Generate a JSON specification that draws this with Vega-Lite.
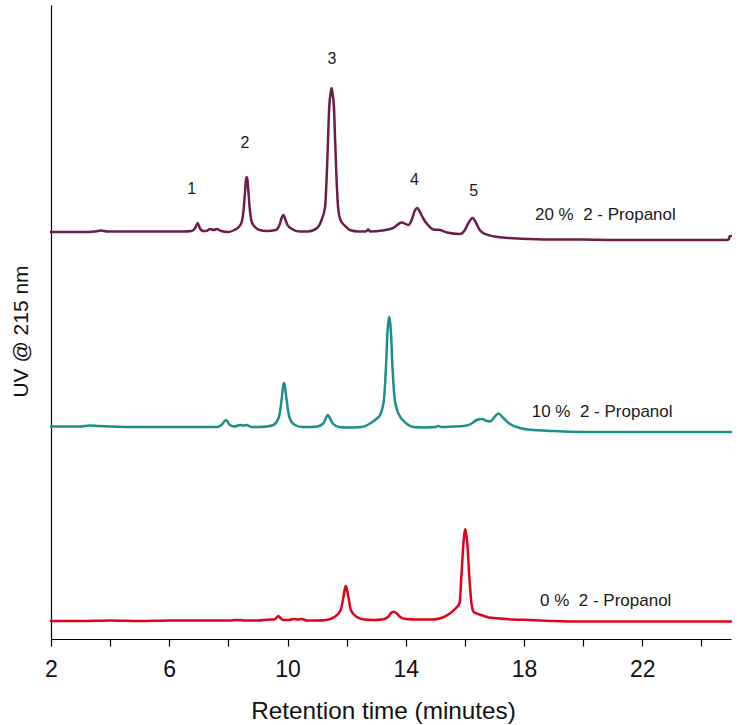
{
  "$schema": "https://vega.github.io/schema/vega-lite/v6.json",
  "width": 680,
  "height": 634,
  "autosize": {"type": "none"},
  "padding": {"left": 51, "top": 5, "right": 11, "bottom": 86},
  "background": "white",
  "config": {"view": {"stroke": null}, "font": "Liberation Sans"},
  "datasets": {
    "traces": [
      {"t":2.0,"v":406,"s":"20 %"},{"t":3.0,"v":406,"s":"20 %"},{"t":3.5,"v":406.5,"s":"20 %"},{"t":3.7,"v":407.5,"s":"20 %"},{"t":3.9,"v":406.5,"s":"20 %"},{"t":4.5,"v":406.5,"s":"20 %"},{"t":5.5,"v":406.5,"s":"20 %"},{"t":6.5,"v":406.5,"s":"20 %"},{"t":6.75,"v":407,"s":"20 %"},{"t":6.88,"v":410,"s":"20 %"},{"t":6.96,"v":415,"s":"20 %"},{"t":7.03,"v":410,"s":"20 %"},{"t":7.15,"v":407,"s":"20 %"},{"t":7.25,"v":407,"s":"20 %"},{"t":7.38,"v":409,"s":"20 %"},{"t":7.5,"v":408,"s":"20 %"},{"t":7.61,"v":409,"s":"20 %"},{"t":7.75,"v":407,"s":"20 %"},{"t":8.0,"v":406,"s":"20 %"},{"t":8.2,"v":408,"s":"20 %"},{"t":8.35,"v":411,"s":"20 %"},{"t":8.45,"v":416,"s":"20 %"},{"t":8.52,"v":430,"s":"20 %"},{"t":8.56,"v":445,"s":"20 %"},{"t":8.6,"v":459,"s":"20 %"},{"t":8.62,"v":461,"s":"20 %"},{"t":8.64,"v":459,"s":"20 %"},{"t":8.68,"v":445,"s":"20 %"},{"t":8.72,"v":430,"s":"20 %"},{"t":8.79,"v":416,"s":"20 %"},{"t":8.9,"v":411,"s":"20 %"},{"t":9.05,"v":408,"s":"20 %"},{"t":9.3,"v":407,"s":"20 %"},{"t":9.6,"v":408,"s":"20 %"},{"t":9.74,"v":414,"s":"20 %"},{"t":9.8,"v":420,"s":"20 %"},{"t":9.86,"v":423,"s":"20 %"},{"t":9.92,"v":419,"s":"20 %"},{"t":10.0,"v":413,"s":"20 %"},{"t":10.15,"v":409,"s":"20 %"},{"t":10.4,"v":406.5,"s":"20 %"},{"t":10.7,"v":406.5,"s":"20 %"},{"t":11.0,"v":410,"s":"20 %"},{"t":11.15,"v":418,"s":"20 %"},{"t":11.27,"v":431,"s":"20 %"},{"t":11.33,"v":465,"s":"20 %"},{"t":11.37,"v":498,"s":"20 %"},{"t":11.41,"v":531,"s":"20 %"},{"t":11.47,"v":547,"s":"20 %"},{"t":11.49,"v":550,"s":"20 %"},{"t":11.51,"v":547,"s":"20 %"},{"t":11.57,"v":531,"s":"20 %"},{"t":11.61,"v":498,"s":"20 %"},{"t":11.65,"v":465,"s":"20 %"},{"t":11.71,"v":431,"s":"20 %"},{"t":11.79,"v":418,"s":"20 %"},{"t":11.95,"v":412,"s":"20 %"},{"t":12.11,"v":408,"s":"20 %"},{"t":12.4,"v":406.5,"s":"20 %"},{"t":12.65,"v":406.5,"s":"20 %"},{"t":12.73,"v":408.5,"s":"20 %"},{"t":12.8,"v":406.5,"s":"20 %"},{"t":13.2,"v":407.5,"s":"20 %"},{"t":13.57,"v":410,"s":"20 %"},{"t":13.86,"v":415.5,"s":"20 %"},{"t":14.09,"v":413,"s":"20 %"},{"t":14.2,"v":418,"s":"20 %"},{"t":14.3,"v":427,"s":"20 %"},{"t":14.39,"v":430,"s":"20 %"},{"t":14.48,"v":426,"s":"20 %"},{"t":14.6,"v":419,"s":"20 %"},{"t":14.75,"v":413,"s":"20 %"},{"t":14.93,"v":408.5,"s":"20 %"},{"t":15.16,"v":408,"s":"20 %"},{"t":15.4,"v":405.5,"s":"20 %"},{"t":15.83,"v":404,"s":"20 %"},{"t":16.0,"v":408,"s":"20 %"},{"t":16.12,"v":415,"s":"20 %"},{"t":16.26,"v":420,"s":"20 %"},{"t":16.38,"v":415,"s":"20 %"},{"t":16.5,"v":408,"s":"20 %"},{"t":16.65,"v":404.5,"s":"20 %"},{"t":17.0,"v":401.5,"s":"20 %"},{"t":17.5,"v":400,"s":"20 %"},{"t":18.2,"v":399,"s":"20 %"},{"t":19.0,"v":398.5,"s":"20 %"},{"t":20.0,"v":398.5,"s":"20 %"},{"t":21.0,"v":398,"s":"20 %"},{"t":22.0,"v":398,"s":"20 %"},{"t":23.0,"v":398,"s":"20 %"},{"t":24.0,"v":398,"s":"20 %"},{"t":24.85,"v":398,"s":"20 %"},{"t":24.93,"v":399,"s":"20 %"},{"t":24.96,"v":402,"s":"20 %"},{"t":25.0,"v":402,"s":"20 %"},

      {"t":2.0,"v":211.5,"s":"10 %"},{"t":3.0,"v":211.5,"s":"10 %"},{"t":3.3,"v":212.5,"s":"10 %"},{"t":3.6,"v":212,"s":"10 %"},{"t":4.0,"v":211.5,"s":"10 %"},{"t":5.0,"v":211,"s":"10 %"},{"t":6.0,"v":211,"s":"10 %"},{"t":7.0,"v":211,"s":"10 %"},{"t":7.6,"v":211,"s":"10 %"},{"t":7.77,"v":213,"s":"10 %"},{"t":7.92,"v":218,"s":"10 %"},{"t":8.05,"v":213,"s":"10 %"},{"t":8.2,"v":211.5,"s":"10 %"},{"t":8.39,"v":213,"s":"10 %"},{"t":8.5,"v":212.5,"s":"10 %"},{"t":8.62,"v":213,"s":"10 %"},{"t":8.78,"v":211,"s":"10 %"},{"t":9.0,"v":211,"s":"10 %"},{"t":9.3,"v":211.5,"s":"10 %"},{"t":9.52,"v":213,"s":"10 %"},{"t":9.71,"v":221,"s":"10 %"},{"t":9.8,"v":238,"s":"10 %"},{"t":9.86,"v":253.5,"s":"10 %"},{"t":9.88,"v":255,"s":"10 %"},{"t":9.9,"v":253.5,"s":"10 %"},{"t":9.97,"v":238,"s":"10 %"},{"t":10.06,"v":221,"s":"10 %"},{"t":10.25,"v":213,"s":"10 %"},{"t":10.5,"v":211,"s":"10 %"},{"t":10.8,"v":211,"s":"10 %"},{"t":11.0,"v":211.5,"s":"10 %"},{"t":11.21,"v":214.5,"s":"10 %"},{"t":11.3,"v":220,"s":"10 %"},{"t":11.36,"v":223,"s":"10 %"},{"t":11.43,"v":220,"s":"10 %"},{"t":11.53,"v":214.5,"s":"10 %"},{"t":11.75,"v":211,"s":"10 %"},{"t":12.0,"v":210.5,"s":"10 %"},{"t":12.5,"v":211,"s":"10 %"},{"t":12.79,"v":214.5,"s":"10 %"},{"t":13.0,"v":219,"s":"10 %"},{"t":13.13,"v":223,"s":"10 %"},{"t":13.26,"v":238,"s":"10 %"},{"t":13.33,"v":271,"s":"10 %"},{"t":13.38,"v":305,"s":"10 %"},{"t":13.42,"v":318,"s":"10 %"},{"t":13.44,"v":321,"s":"10 %"},{"t":13.46,"v":318,"s":"10 %"},{"t":13.5,"v":305,"s":"10 %"},{"t":13.55,"v":271,"s":"10 %"},{"t":13.63,"v":238,"s":"10 %"},{"t":13.75,"v":224.5,"s":"10 %"},{"t":14.02,"v":214.5,"s":"10 %"},{"t":14.25,"v":211,"s":"10 %"},{"t":14.6,"v":210.5,"s":"10 %"},{"t":15.0,"v":211,"s":"10 %"},{"t":15.1,"v":212,"s":"10 %"},{"t":15.2,"v":211,"s":"10 %"},{"t":15.6,"v":211.5,"s":"10 %"},{"t":15.95,"v":212,"s":"10 %"},{"t":16.2,"v":214,"s":"10 %"},{"t":16.4,"v":218,"s":"10 %"},{"t":16.57,"v":219,"s":"10 %"},{"t":16.75,"v":217,"s":"10 %"},{"t":16.85,"v":216.5,"s":"10 %"},{"t":17.0,"v":221,"s":"10 %"},{"t":17.13,"v":224.5,"s":"10 %"},{"t":17.3,"v":220,"s":"10 %"},{"t":17.5,"v":214.5,"s":"10 %"},{"t":17.86,"v":210,"s":"10 %"},{"t":18.3,"v":208,"s":"10 %"},{"t":18.77,"v":207.3,"s":"10 %"},{"t":19.9,"v":206,"s":"10 %"},{"t":21.0,"v":206,"s":"10 %"},{"t":22.0,"v":206,"s":"10 %"},{"t":23.0,"v":206,"s":"10 %"},{"t":24.0,"v":206,"s":"10 %"},{"t":25.0,"v":206,"s":"10 %"},

      {"t":2.0,"v":17,"s":"0 %"},{"t":3.0,"v":17,"s":"0 %"},{"t":4.0,"v":17.5,"s":"0 %"},{"t":5.0,"v":17,"s":"0 %"},{"t":6.0,"v":17.5,"s":"0 %"},{"t":7.0,"v":17.5,"s":"0 %"},{"t":8.0,"v":17.5,"s":"0 %"},{"t":8.3,"v":18,"s":"0 %"},{"t":8.6,"v":17.5,"s":"0 %"},{"t":9.0,"v":17.5,"s":"0 %"},{"t":9.4,"v":18.5,"s":"0 %"},{"t":9.54,"v":18.5,"s":"0 %"},{"t":9.62,"v":20,"s":"0 %"},{"t":9.69,"v":22,"s":"0 %"},{"t":9.76,"v":20,"s":"0 %"},{"t":9.85,"v":18,"s":"0 %"},{"t":10.05,"v":18,"s":"0 %"},{"t":10.2,"v":19,"s":"0 %"},{"t":10.35,"v":18.5,"s":"0 %"},{"t":10.48,"v":19,"s":"0 %"},{"t":10.65,"v":17.5,"s":"0 %"},{"t":11.0,"v":17.5,"s":"0 %"},{"t":11.3,"v":18,"s":"0 %"},{"t":11.6,"v":21.3,"s":"0 %"},{"t":11.8,"v":28,"s":"0 %"},{"t":11.89,"v":41,"s":"0 %"},{"t":11.95,"v":50.5,"s":"0 %"},{"t":11.97,"v":52,"s":"0 %"},{"t":11.99,"v":50.5,"s":"0 %"},{"t":12.06,"v":41,"s":"0 %"},{"t":12.14,"v":28,"s":"0 %"},{"t":12.33,"v":21.3,"s":"0 %"},{"t":12.6,"v":18.5,"s":"0 %"},{"t":12.9,"v":18,"s":"0 %"},{"t":13.2,"v":18.5,"s":"0 %"},{"t":13.41,"v":21.3,"s":"0 %"},{"t":13.5,"v":25,"s":"0 %"},{"t":13.58,"v":26.3,"s":"0 %"},{"t":13.68,"v":25,"s":"0 %"},{"t":13.8,"v":21.3,"s":"0 %"},{"t":14.0,"v":19,"s":"0 %"},{"t":14.4,"v":18.5,"s":"0 %"},{"t":14.9,"v":18.5,"s":"0 %"},{"t":15.2,"v":20,"s":"0 %"},{"t":15.5,"v":24.7,"s":"0 %"},{"t":15.7,"v":30,"s":"0 %"},{"t":15.82,"v":35,"s":"0 %"},{"t":15.88,"v":61,"s":"0 %"},{"t":15.95,"v":95,"s":"0 %"},{"t":15.99,"v":106,"s":"0 %"},{"t":16.01,"v":108.7,"s":"0 %"},{"t":16.03,"v":106,"s":"0 %"},{"t":16.08,"v":95,"s":"0 %"},{"t":16.15,"v":61,"s":"0 %"},{"t":16.22,"v":35,"s":"0 %"},{"t":16.3,"v":26,"s":"0 %"},{"t":16.45,"v":24,"s":"0 %"},{"t":16.6,"v":22.5,"s":"0 %"},{"t":16.8,"v":20.5,"s":"0 %"},{"t":17.07,"v":19.7,"s":"0 %"},{"t":17.6,"v":18.5,"s":"0 %"},{"t":18.2,"v":18,"s":"0 %"},{"t":19.0,"v":17,"s":"0 %"},{"t":20.0,"v":16.5,"s":"0 %"},{"t":21.0,"v":16.5,"s":"0 %"},{"t":22.0,"v":16.5,"s":"0 %"},{"t":23.0,"v":16.5,"s":"0 %"},{"t":24.0,"v":16.5,"s":"0 %"},{"t":25.0,"v":16.5,"s":"0 %"}
    ],
    "peaks": [
      {"t":6.76,"v":444,"text":"1"},
      {"t":8.56,"v":489.7,"text":"2"},
      {"t":11.5,"v":574,"text":"3"},
      {"t":14.29,"v":453,"text":"4"},
      {"t":16.3,"v":442.3,"text":"5"}
    ],
    "notes": [
      {"t":18.37,"v":418,"text":"20 %\u00a0\u00a02 - Propanol"},
      {"t":18.26,"v":220.7,"text":"10 %\u00a0\u00a02 - Propanol"},
      {"t":18.54,"v":32,"text":"0 %\u00a0\u00a02 - Propanol"}
    ]
  },
  "layer": [
    {
      "data": {"name": "traces"},
      "mark": {"type": "line", "strokeWidth": 2.5, "strokeJoin": "round", "strokeCap": "round", "interpolate": "monotone"},
      "encoding": {
        "x": {
          "field": "t", "type": "quantitative",
          "scale": {"domain": [2, 25], "nice": false, "zero": false},
          "axis": {
            "title": "Retention time (minutes)",
            "values": [2, 4, 6, 8, 10, 12, 14, 16, 18, 20, 22, 24],
            "labelExpr": "datum.value % 4 == 2 ? datum.label : ''",
            "labelFlush": false,
            "grid": false,
            "domainColor": "#000", "domainWidth": 1.2,
            "tickColor": "#000", "tickWidth": 1.2, "tickSize": 7,
            "labelFont": "Liberation Sans", "labelFontSize": 23, "labelColor": "#111",
            "labelBaseline": "alphabetic", "labelPadding": 30,
            "titleFont": "Liberation Sans", "titleFontSize": 24.3, "titleFontWeight": "normal", "titleColor": "#111",
            "titleBaseline": "alphabetic", "titleX": 332, "titleY": 79
          }
        },
        "y": {
          "field": "v", "type": "quantitative",
          "scale": {"domain": [-1, 633], "nice": false, "zero": false},
          "axis": {
            "title": "UV @ 215 nm",
            "labels": false, "ticks": false, "grid": false,
            "domainColor": "#000", "domainWidth": 1.2,
            "titleFont": "Liberation Sans", "titleFontSize": 21, "titleFontWeight": "normal", "titleColor": "#111",
            "titleBaseline": "alphabetic", "titleAngle": -90, "titleX": -24, "titleY": 326
          }
        },
        "color": {
          "field": "s", "type": "nominal",
          "scale": {"domain": ["20 %", "10 %", "0 %"], "range": ["#6b1d4c", "#1b8f8a", "#e2001a"]},
          "legend": null
        },
        "order": {"field": "t", "type": "quantitative"}
      }
    },
    {
      "data": {"name": "peaks"},
      "mark": {"type": "text", "align": "center", "baseline": "alphabetic", "font": "Liberation Sans", "fontSize": 16, "color": "#1a1a1a"},
      "encoding": {
        "x": {"field": "t", "type": "quantitative"},
        "y": {"field": "v", "type": "quantitative"},
        "text": {"field": "text"}
      }
    },
    {
      "data": {"name": "notes"},
      "mark": {"type": "text", "align": "left", "baseline": "alphabetic", "font": "Liberation Sans", "fontSize": 17, "color": "#1a1a1a"},
      "encoding": {
        "x": {"field": "t", "type": "quantitative"},
        "y": {"field": "v", "type": "quantitative"},
        "text": {"field": "text"}
      }
    }
  ]
}
